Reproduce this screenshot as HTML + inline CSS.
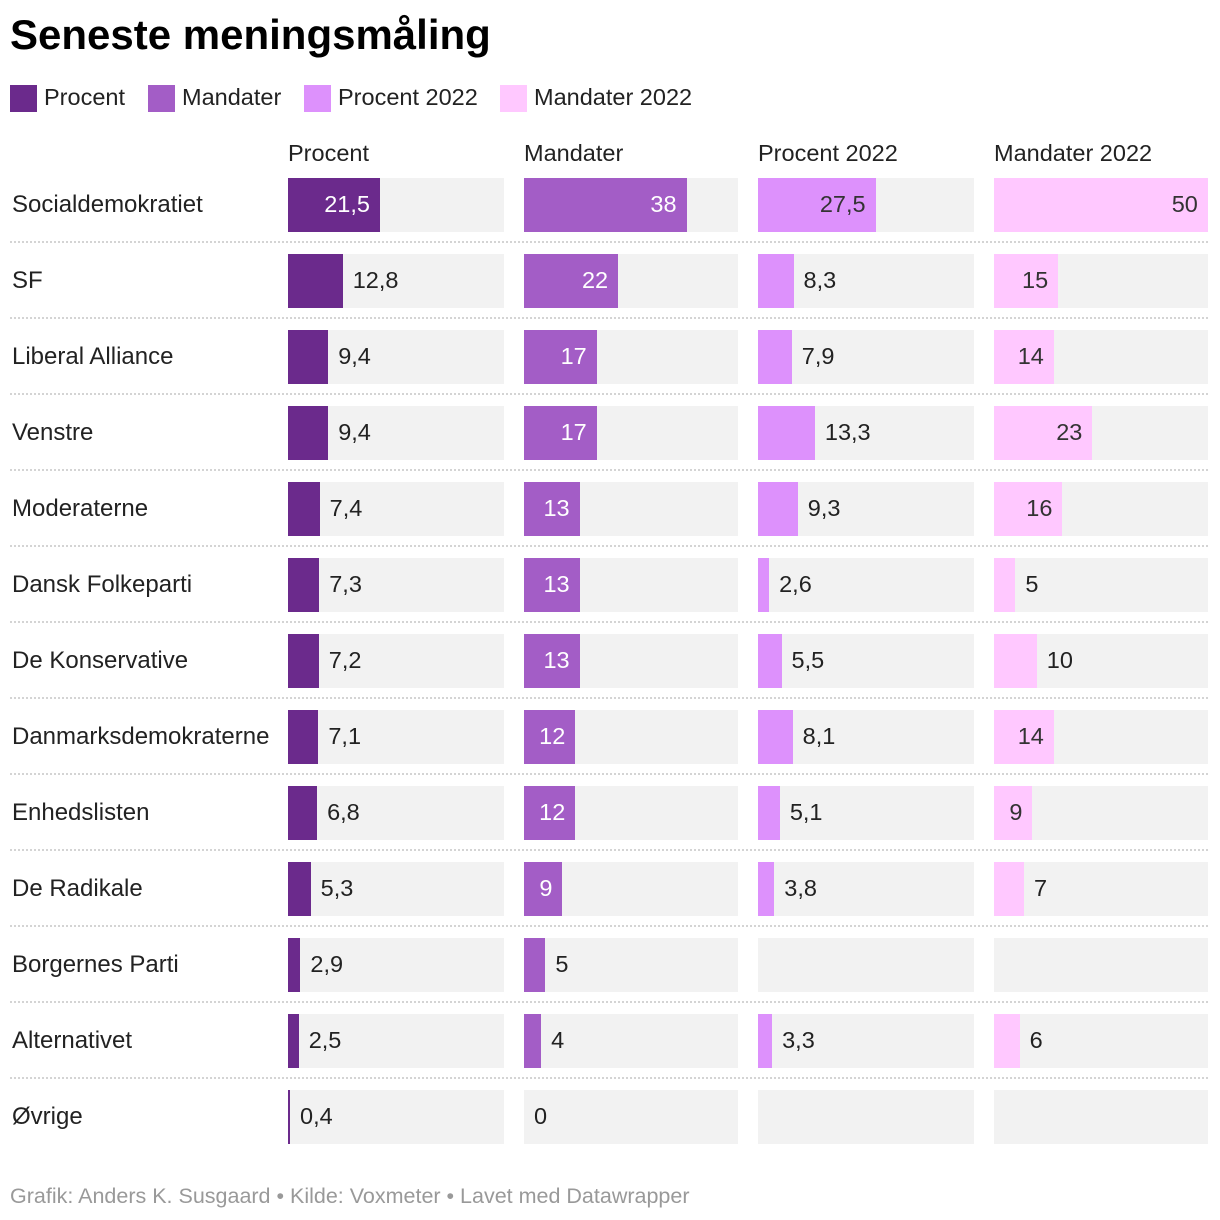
<!DOCTYPE html>
<html><head><meta charset="utf-8"><style>
body{margin:0;width:1220px;height:1220px;background:#fff;font-family:"Liberation Sans",sans-serif;color:#222;position:relative;overflow:hidden}
.a{position:absolute;white-space:nowrap}
</style></head><body>
<div class="a" style="left:10px;top:11px;font-size:42px;font-weight:bold;color:#000">Seneste meningsmåling</div>
<div id="legend"></div>
<div id="chart"></div>
<div class="a" style="left:10px;top:1184px;font-size:21.5px;color:#999">Grafik: Anders K. Susgaard • Kilde: Voxmeter • Lavet med Datawrapper</div>
<script>
const parties=["Socialdemokratiet","SF","Liberal Alliance","Venstre","Moderaterne","Dansk Folkeparti","De Konservative","Danmarksdemokraterne","Enhedslisten","De Radikale","Borgernes Parti","Alternativet","Øvrige"];
const columns=["Procent","Mandater","Procent 2022","Mandater 2022"];
const procent=[21.5,12.8,9.4,9.4,7.4,7.3,7.2,7.1,6.8,5.3,2.9,2.5,0.4];
const mandater=[38,22,17,17,13,13,13,12,12,9,5,4,0];
const procent2022=[27.5,8.3,7.9,13.3,9.3,2.6,5.5,8.1,5.1,3.8,null,3.3,null];
const mandater2022=[50,15,14,23,16,5,10,14,9,7,null,6,null];
const series=[procent,mandater,procent2022,mandater2022];
const colors=["#6b2a8c","#a35dc6","#dd91fc","#ffc8ff"];
const inText=["#fff","#fff","#333","#333"];
const colX=[288,524,758,994], colWs=[216,214,216,214], domainMax=50.5;
const x=v=>v/domainMax*216;
const rowY=i=>178+i*76;
const fmt=v=>String(v).replace('.',',');
const tw=s=>s.length*11.5-(s.includes(',')?6:0);
const lg=document.getElementById('legend');
const lgX=[10,148,304,500];
columns.forEach((c,j)=>{
  const sq=document.createElement('div');sq.className='a';
  
  
  sq.style.cssText=`left:${lgX[j]}px;top:85px;width:27px;height:27px;background:${colors[j]}`;lg.appendChild(sq);
  const t=document.createElement('div');t.className='a';
  
  
  t.style.cssText=`left:${lgX[j]+34}px;top:84px;font-size:23.5px`;t.textContent=c;lg.appendChild(t);
});
const ch=document.getElementById('chart');
columns.forEach((c,j)=>{
  const h=document.createElement('div');h.className='a';
  
  
  h.style.cssText=`left:${colX[j]}px;top:140px;font-size:23.5px`;h.textContent=c;ch.appendChild(h);
});
parties.forEach((p,i)=>{
  const y=rowY(i);
  const l=document.createElement('div');l.className='a';
  
  
  l.style.cssText=`left:12px;top:${y+13}px;font-size:24px`;l.textContent=p;ch.appendChild(l);
  if(i<parties.length-1){
    const s=document.createElement('div');s.className='a';
    
    
    s.style.cssText=`left:10px;top:${y+63}px;width:1198px;height:0;border-top:2px dotted #d4d4d4`;ch.appendChild(s);
  }
  series.forEach((arr,j)=>{
    const bg=document.createElement('div');bg.className='a';
    
    
    bg.style.cssText=`left:${colX[j]}px;top:${y}px;width:${colWs[j]}px;height:54px;background:#f2f2f2`;ch.appendChild(bg);
    const v=arr[i]; if(v===null) return;
    const w=Math.min(Math.max(x(v),v>0?2:0),colWs[j]);
    const b=document.createElement('div');b.className='a';
    
    
    b.style.cssText=`left:${colX[j]}px;top:${y}px;width:${w}px;height:54px;background:${colors[j]}`;ch.appendChild(b);
    const s=fmt(v), t=document.createElement('div');t.className='a';
    
    
    t.textContent=s;
    if(w>=tw(s)+24){t.style.cssText=`left:${colX[j]}px;width:${w-10}px;text-align:right;top:${y+13}px;font-size:23.5px;color:${inText[j]}`;}
    else{t.style.cssText=`left:${colX[j]+w+10}px;top:${y+13}px;font-size:23.5px;color:#222`;}
    ch.appendChild(t);
  });
});
</script>
</body></html>
